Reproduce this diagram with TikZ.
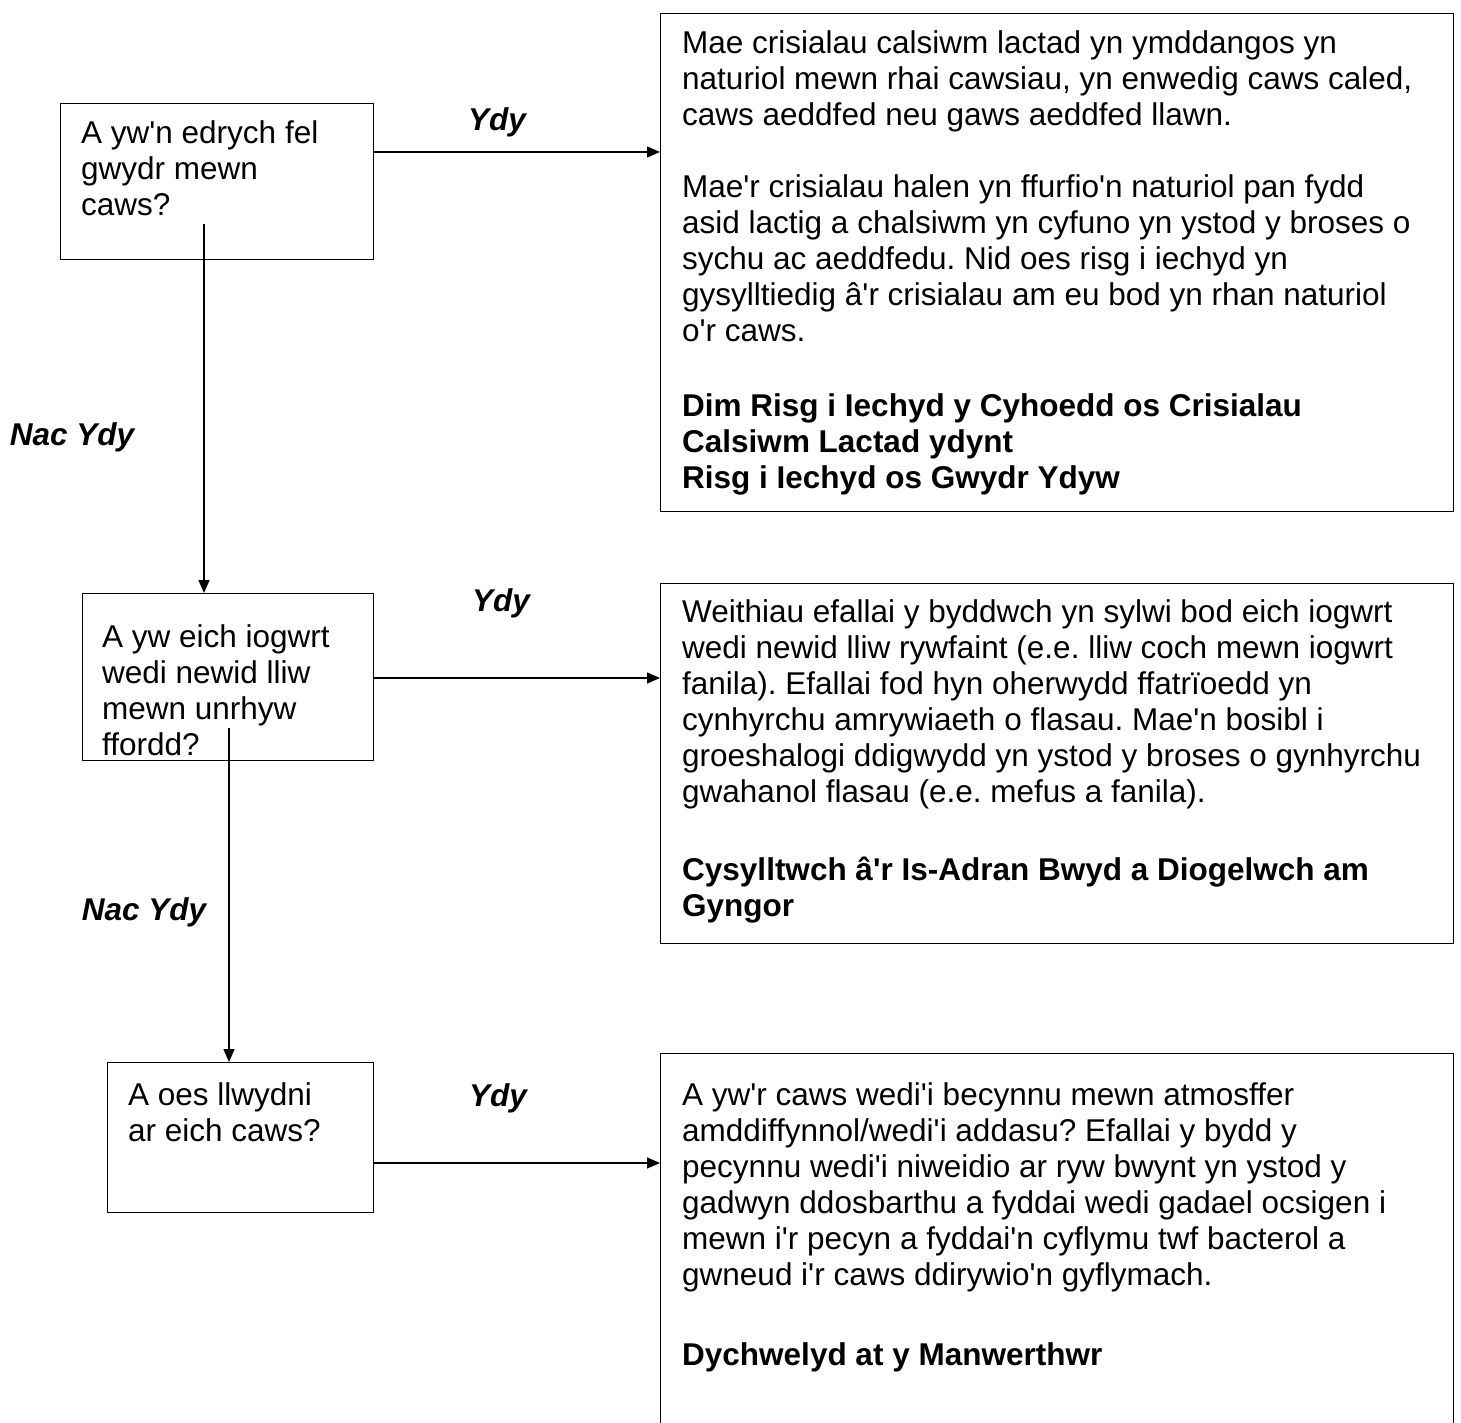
\documentclass[tikz,border=0pt]{standalone}
\usepackage{fontspec}
\setmainfont{Liberation Sans}[Ligatures=TeXOff]
\usetikzlibrary{arrows.meta}
\frenchspacing

\tikzset{
  qbox/.style={draw, line width=1.4pt, anchor=north west, inner sep=0pt},
  txt/.style={anchor=north west, inner sep=0pt, align=left, font=\fontsize{31.5}{36}\selectfont},
  lbl/.style={inner sep=0pt, font=\fontsize{31.5}{36}\selectfont\bfseries\itshape},
  arr/.style={line width=1.4pt, -{Triangle[length=13pt,width=11pt]}},
}

\begin{document}
\begin{tikzpicture}[x=1pt,y=-1pt]
  \useasboundingbox (0,0) rectangle (1461,1423);
  \clip (0,0) rectangle (1461,1423);

  % question boxes
  \node[qbox, minimum width=313pt, minimum height=156pt] (q1) at (60,103) {};
  \node[qbox, minimum width=291pt, minimum height=167pt] (q2) at (82,593) {};
  \node[qbox, minimum width=266pt, minimum height=150pt] (q3) at (107,1062) {};
  \node[txt] (q1t) at (81,120) {A yw'n edrych fel\\gwydr mewn\\caws?};
  \node[txt] (q2t) at (102,624) {A yw eich iogwrt\\wedi newid lliw\\mewn unrhyw\\ffordd?};
  \node[txt] (q3t) at (128,1082) {A oes llwydni\\ar eich caws?};

  % answer boxes
  \node[qbox, minimum width=793pt, minimum height=498pt] (a1) at (660,13) {};
  \node[qbox, minimum width=793pt, minimum height=360pt] (a2) at (660,583) {};
  \node[qbox, minimum width=793pt, minimum height=420pt] (a3) at (660,1053) {};
  \node[txt] (a1t) at (682,30) {Mae crisialau calsiwm lactad yn ymddangos yn\\
    naturiol mewn rhai cawsiau, yn enwedig caws caled,\\
    caws aeddfed neu gaws aeddfed llawn.\\[36pt]
    Mae'r crisialau halen yn ffurfio'n naturiol pan fydd\\
    asid lactig a chalsiwm yn cyfuno yn ystod y broses o\\
    sychu ac aeddfedu. Nid oes risg i iechyd yn\\
    gysylltiedig â'r crisialau am eu bod yn rhan naturiol\\
    o'r caws.\\[39pt]
    \textbf{Dim Risg i Iechyd y Cyhoedd os Crisialau}\\
    \textbf{Calsiwm Lactad ydynt}\\
    \textbf{Risg i Iechyd os Gwydr Ydyw}};
  \node[txt] (a2t) at (682,599) {Weithiau efallai y byddwch yn sylwi bod eich iogwrt\\
    wedi newid lliw rywfaint (e.e. lliw coch mewn iogwrt\\
    fanila). Efallai fod hyn oherwydd ffatrïoedd yn\\
    cynhyrchu amrywiaeth o flasau. Mae'n bosibl i\\
    groeshalogi ddigwydd yn ystod y broses o gynhyrchu\\
    gwahanol flasau (e.e. mefus a fanila).\\[42pt]
    \textbf{Cysylltwch â'r Is-Adran Bwyd a Diogelwch am}\\
    \textbf{Gyngor}};
  \node[txt] (a3t) at (682,1082) {A yw'r caws wedi'i becynnu mewn atmosffer\\
    amddiffynnol/wedi'i addasu? Efallai y bydd y\\
    pecynnu wedi'i niweidio ar ryw bwynt yn ystod y\\
    gadwyn ddosbarthu a fyddai wedi gadael ocsigen i\\
    mewn i'r pecyn a fyddai'n cyflymu twf bacterol a\\
    gwneud i'r caws ddirywio'n gyflymach.\\[44pt]
    \textbf{Dychwelyd at y Manwerthwr}};

  % yes arrows
  \coordinate (y1) at (373,152);
  \coordinate (y2) at (373,678);
  \coordinate (y3) at (373,1163);
  \draw[arr] (y1) -- (y1 -| a1.west);
  \draw[arr] (y2) -- (y2 -| a2.west);
  \draw[arr] (y3) -- (y3 -| a3.west);
  \node[lbl] (ydy1) at (497,122) {Ydy};
  \node[lbl] (ydy2) at (501,603) {Ydy};
  \node[lbl] (ydy3) at (498,1098) {Ydy};

  % no arrows
  \coordinate (n1) at (204,224);
  \coordinate (n2) at (229,728);
  \draw[arr] (n1) -- (n1 |- q2.north);
  \draw[arr] (n2) -- (n2 |- q3.north);
  \node[lbl] (nac1) at (72,437) {Nac Ydy};
  \node[lbl] (nac2) at (144,912) {Nac Ydy};
\end{tikzpicture}
\end{document}
